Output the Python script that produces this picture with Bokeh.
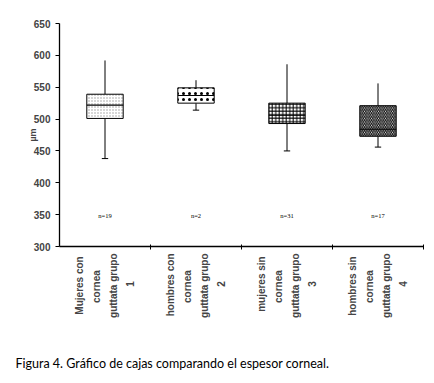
from math import pi
from bokeh.plotting import figure
from bokeh.models import Range1d, FixedTicker, Title, ColumnDataSource
from bokeh.core.properties import value
from bokeh.embed import file_html
from bokeh.resources import INLINE

# ---- data ----
group_lines = [
    ["Mujeres con", "cornea", "guttata grupo", "1"],
    ["hombres con", "cornea", "guttata grupo", "2"],
    ["mujeres sin", "cornea", "guttata grupo", "3"],
    ["hombres sin", "cornea", "guttata grupo", "4"],
]
n_labels = ["n=19", "n=2", "n=31", "n=17"]
whisker_low = [438, 514, 450, 456]
q1 = [501, 525, 493, 473]
median = [522, 537, 506, 484]
q3 = [539, 549, 525, 521]
whisker_high = [592, 561, 586, 556]
y_ticks = [300, 350, 400, 450, 500, 550, 600, 650]
y_label = "µm"
caption = "Figura 4. Gráfico de cajas comparando el espesor corneal."

# ---- styles ----
hatches = [
    dict(hatch_pattern="dot", hatch_color="#9a9a9a", hatch_scale=3, hatch_weight=1),
    dict(hatch_pattern="dot", hatch_color="#000000", hatch_scale=6, hatch_weight=2),
    dict(hatch_pattern="cross", hatch_color="#000000", hatch_scale=3.5, hatch_weight=1),
    dict(hatch_pattern="left_diagonal_line", hatch_color="#000000", hatch_scale=3.5, hatch_weight=1.1),
]

# approximate bold 10px Arial widths, used to centre wrapped lines (padding with nbsp)
_w = {"M": 8.3, "m": 8.9, "j": 2.8, "i": 2.8, "t": 3.3, "r": 3.9, " ": 2.8, "1": 5.6}
def _width(s):
    return sum(_w.get(ch, 6.0 if ch in "uonpgh" else 5.6) for ch in s)

def centred(lines):
    wmax = max(_width(l) for l in lines)
    out = []
    for l in lines:
        pad = int(round((wmax - _width(l)) / 2 / 2.8))
        out.append(l + "\u00a0" * pad)
    return "\n".join(out)

groups = [centred(g) for g in group_lines]

centers = [i + 0.5 for i in range(len(groups))]
box_w = 0.4
cap_w = 0.07

p = figure(width=426, height=375, output_backend="svg", toolbar_location=None,
           x_range=Range1d(0, len(groups)), y_range=Range1d(300, 650),
           min_border_left=59, min_border_right=3, min_border_top=23, min_border_bottom=128)
p.outline_line_color = None
p.grid.visible = False
p.background_fill_color = "white"

src = ColumnDataSource(dict(x=centers, lo=whisker_low, q1=q1, med=median, q3=q3, hi=whisker_high,
                            x0=[c - cap_w / 2 for c in centers], x1=[c + cap_w / 2 for c in centers],
                            mx0=[c - box_w / 2 for c in centers], mx1=[c + box_w / 2 for c in centers],
                            n=n_labels, ny=[349] * len(groups)))

p.segment(x0="x", y0="lo", x1="x", y1="q1", source=src, line_color="black", line_width=1)
p.segment(x0="x", y0="q3", x1="x", y1="hi", source=src, line_color="black", line_width=1)
p.segment(x0="x0", y0="lo", x1="x1", y1="lo", source=src, line_color="black", line_width=1)

for i in range(len(groups)):
    p.vbar(x=[centers[i]], width=box_w, bottom=[q1[i]], top=[q3[i]],
           fill_color="white", line_color="black", line_width=1, **hatches[i])

p.segment(x0="mx0", y0="med", x1="mx1", y1="med", source=src, line_color="black", line_width=1.2)

p.text(x="x", y="ny", text="n", source=src, text_font=value("Liberation Serif"),
       text_font_size="6.5px", text_align="center", text_baseline="middle", text_color="black")

# axes
p.xaxis.ticker = FixedTicker(ticks=centers, minor_ticks=list(range(1, len(groups) + 1)))
p.xaxis.major_label_overrides = {c: g for c, g in zip(centers, groups)}
p.xaxis.major_label_orientation = pi / 2
p.xaxis.major_tick_line_color = None
p.xaxis.major_tick_out = 0
p.xaxis.major_tick_in = 0
p.xaxis.minor_tick_line_color = "black"
p.xaxis.minor_tick_out = 3
p.xaxis.minor_tick_in = 2
p.xaxis.major_label_text_font = "Liberation Sans"
p.xaxis.major_label_text_font_style = "bold"
p.xaxis.major_label_text_font_size = "10px"
p.xaxis.major_label_text_line_height = 1.55
p.xaxis.major_label_standoff = 4
p.xaxis.axis_line_color = "black"
p.xaxis.axis_line_width = 1.3
# invisible spacer label that pushes the caption down
p.xaxis.axis_label = "\u00a0"
p.xaxis.axis_label_standoff = 14
p.xaxis.axis_label_text_font_size = "10px"

p.yaxis.ticker = FixedTicker(ticks=y_ticks)
p.yaxis.major_tick_out = 4
p.yaxis.major_tick_in = 0
p.yaxis.minor_tick_line_color = None
p.yaxis.major_label_text_font = "Liberation Sans"
p.yaxis.major_label_text_font_style = "bold"
p.yaxis.major_label_text_font_size = "10px"
p.yaxis.major_label_standoff = 5
p.yaxis.axis_line_color = "black"
p.yaxis.axis_line_width = 1.3
p.yaxis.axis_label = y_label
p.yaxis.axis_label_standoff = -7
p.yaxis.axis_label_text_font = "Liberation Sans"
p.yaxis.axis_label_text_font_style = "bold"
p.yaxis.axis_label_text_font_size = "9px"

p.add_layout(Title(text=caption, align="left", offset=-44, text_font="Lato",
                   text_font_size="12.5px", text_font_style="normal", text_color="black"), "below")

open("out.html", "w").write(file_html(p, INLINE))
